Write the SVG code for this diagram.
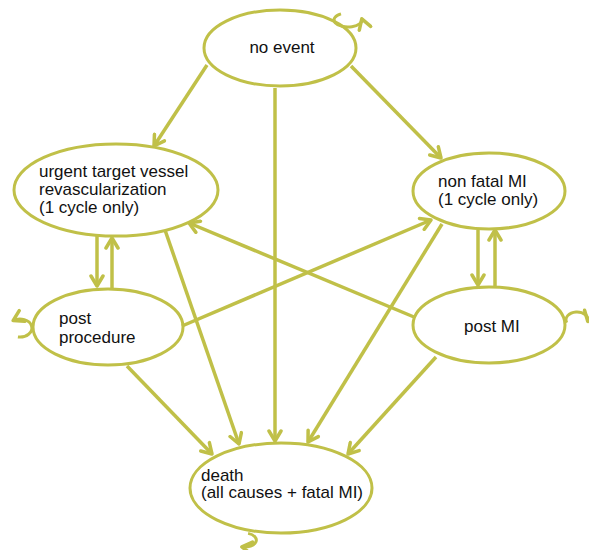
<svg xmlns="http://www.w3.org/2000/svg" width="589" height="550" viewBox="0 0 589 550">
<defs>
<marker id="ah" markerUnits="userSpaceOnUse" markerWidth="16" markerHeight="16" refX="12" refY="7" orient="auto" viewBox="0 0 16 14">
<path d="M2,1 L12,7 L2,13" fill="none" stroke="#c0c048" stroke-width="3.5" stroke-linecap="round" stroke-linejoin="round"/>
</marker>
<style>
.n{fill:#fff;stroke:#c0c048;stroke-width:3}
.t{font-family:"Liberation Sans",Arial,sans-serif;font-size:17px;fill:#111}
.c{fill:none;stroke:#c0c048;stroke-width:3.5;marker-end:url(#ah)}
.l{fill:none;stroke:#c0c048;stroke-width:3;marker-end:url(#ah)}
</style>
</defs>
<rect width="589" height="550" fill="#fff"/>
<g id="no-event">
<ellipse class="n" cx="280" cy="48" rx="76" ry="38"/>
<text class="t" x="282" y="53" text-anchor="middle">no event</text>
</g>
<g id="urgent">
<ellipse class="n" cx="116" cy="190" rx="102" ry="46"/>
<text class="t" x="39" y="177">urgent target vessel</text>
<text class="t" x="39" y="195">revascularization</text>
<text class="t" x="39" y="213">(1 cycle only)</text>
</g>
<g id="non-fatal-mi">
<ellipse class="n" cx="489" cy="191" rx="76" ry="38"/>
<text class="t" x="438" y="187">non fatal MI</text>
<text class="t" x="438" y="205">(1 cycle only)</text>
</g>
<g id="post-procedure">
<ellipse class="n" cx="108" cy="327" rx="75" ry="38"/>
<text class="t" x="59" y="324">post</text>
<text class="t" x="59" y="343">procedure</text>
</g>
<g id="post-mi">
<ellipse class="n" cx="489" cy="325" rx="76" ry="38"/>
<text class="t" x="464" y="332">post MI</text>
</g>
<g id="death">
<ellipse class="n" cx="281" cy="488" rx="91" ry="45"/>
<text class="t" x="201" y="481">death</text>
<text class="t" x="201" y="498">(all causes + fatal MI)</text>
</g>
<g id="connectors">
<line class="c" x1="207" y1="65" x2="154" y2="146"/>
<line class="c" x1="275" y1="88" x2="275" y2="441"/>
<line class="c" x1="351" y1="66" x2="441" y2="158"/>
<line class="c" x1="97" y1="235" x2="97" y2="286"/>
<line class="c" x1="112" y1="288" x2="112" y2="238"/>
<line class="c" x1="165" y1="230" x2="239" y2="444"/>
<line class="c" x1="182" y1="326" x2="431" y2="220"/>
<line class="c" x1="414" y1="317" x2="189" y2="223"/>
<line class="c" x1="127" y1="366" x2="212" y2="454"/>
<line class="c" x1="442" y1="224" x2="308" y2="442"/>
<line class="c" x1="478" y1="230" x2="478" y2="285"/>
<line class="c" x1="495" y1="286" x2="495" y2="230"/>
<line class="c" x1="436" y1="357" x2="348" y2="454"/>
<path class="l" d="M341,13.9 A14 7 0 1 0 361.8,18.8"/>
<path class="l" d="M17.9,336.9 A12 9 0 1 0 13.1,320.6"/>
<path class="l" d="M566.7,322.7 A11 8 0 1 1 587.8,321.4"/>
<path class="l" d="M248.1,533.4 A12 7 0 0 1 241.9,546.9"/>
</g>
</svg>
